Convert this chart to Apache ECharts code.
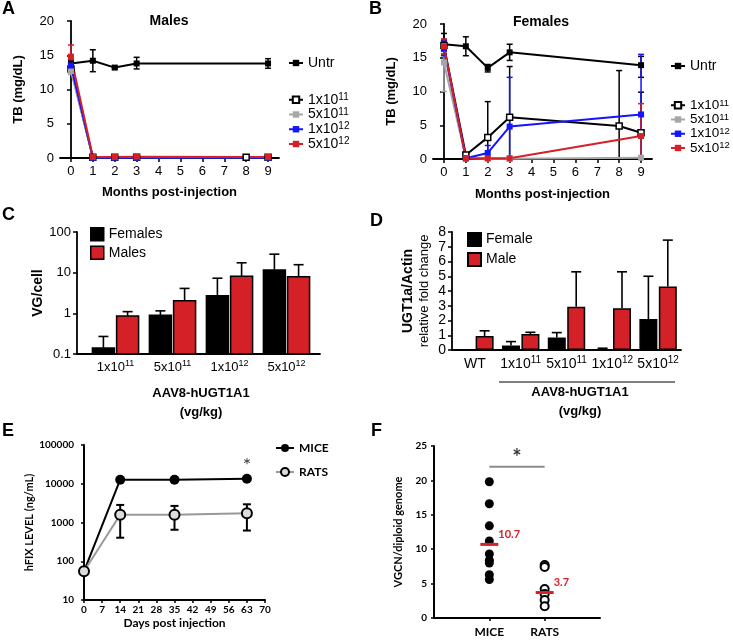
<!DOCTYPE html>
<html><head><meta charset="utf-8">
<script src="https://cdn.jsdelivr.net/npm/echarts@6/dist/echarts.min.js"></script>
<style>html,body{margin:0;padding:0;background:#fff}#c{width:733px;height:640px}</style>
</head><body><div id="c"></div>
<script>
// ================= DATA =================
const monthTicks = [0,1,2,3,4,5,6,7,8,9];
const untrMonths = [0,1,2,3,9];
const lowDoseMonths = [0,1,2,3,8,9];
const doseMonths = [0,1,2,3,9];

// Panel A (Males), TB mg/dL
const aUntr   = [13.8,14.2,13.2,13.8,13.8];
const aUntrLo = [13.3,12.6,13.0,13.0,13.1];
const aUntrHi = [14.3,15.8,13.4,14.7,14.5];
const a1e11   = [13.0,0.1,0.1,0.1,0.1,0.1];
const a1e11Lo = [12.6,0.1,0.1,0.1,0.1,0.1];
const a1e11Hi = [13.4,0.1,0.1,0.1,0.1,0.1];
const a5e11   = [12.7,0.1,0.1,0.1,0.1];
const a5e11Lo = [12.2,0.1,0.1,0.1,0.1];
const a5e11Hi = [13.2,0.1,0.1,0.1,0.1];
const a1e12   = [13.5,0.05,0.05,0.05,0.05];
const a1e12Lo = [13.0,0.05,0.05,0.05,0.05];
const a1e12Hi = [14.0,0.05,0.05,0.05,0.05];
const a5e12   = [14.8,0.15,0.15,0.2,0.15];
const a5e12Lo = [13.2,0.15,0.15,0.2,0.15];
const a5e12Hi = [16.5,0.15,0.15,0.2,0.15];

// Panel B (Females), TB mg/dL
const bUntr   = [17.0,16.7,13.5,15.8,13.9];
const bUntrLo = [15.4,15.3,12.9,14.6,12.1];
const bUntrHi = [18.6,18.1,14.0,17.0,15.2];
const b1e11   = [16.8,0.6,3.2,6.2,4.9,3.9];
const b1e11Lo = [16.0,0.4,0,0,0,0];
const b1e11Hi = [17.6,0.8,8.5,13.7,13.1,9.9];
const b5e11   = [14.3,0.1,0.05,0.05,0.2];
const b5e11Lo = [10.0,0.1,0.05,0.05,0.2];
const b5e11Hi = [17.0,0.1,0.05,0.05,0.2];
const b1e12   = [16.4,0.1,0.9,4.8,6.6];
const b1e12Lo = [15.3,0.1,0,0,0];
const b1e12Hi = [17.6,0.1,2.0,12.1,15.5];
const b5e12   = [16.7,0.1,0.1,0.1,3.4];
const b5e12Lo = [15.6,0.1,0.1,0.1,0];
const b5e12Hi = [17.8,0.1,0.1,0.1,8.2];

// Panel C, VG/cell (log)
const cCats = ['1x10^11','5x10^11','1x10^12','5x10^12'];
const cFemales   = [0.14,0.9,2.7,11.6];
const cFemalesHi = [0.27,1.15,7.3,28.5];
const cMales     = [0.86,2.05,8.2,7.9];
const cMalesHi   = [1.1,4.1,17.5,15.7];

// Panel D, UGT1a/Actin relative fold change
const dCats = ['WT','1x10^11','5x10^11','1x10^12','5x10^12'];
const dFemale   = [null,0.3,0.84,0.05,2.1];
const dFemaleHi = [null,0.57,1.18,0.12,5.0];
const dMale     = [0.95,1.08,2.94,2.83,4.3];
const dMaleHi   = [1.3,1.2,5.3,5.3,7.45];

// Panel E, hFIX level ng/mL (log)
const eDays   = [0,14,35,63];
const eMice   = [55,12700,12700,13500];
const eRats   = [55,1580,1580,1730];
const eRatsLo = [55,405,650,620];
const eRatsHi = [55,2840,2680,2950];

// Panel F, VGCN/diploid genome
const fCats  = ['','MICE','RATS',''];
const fMice  = [19.8,16.6,13.4,11.2,9.3,8.4,8.0,6.3,5.6];
const fRats  = [7.7,7.4,4.2,3.5,2.6,1.7];
const fMeans = [10.7,3.7];
const fSigY  = 22;

// ================= STYLE =================
const FONT = '"Liberation Sans", Arial, sans-serif';
const FONT2 = 'Lato, "Open Sans", sans-serif';
const RED = '#d42027', BLUE = '#1414ff', GRAY = '#a6a6a6';
const supFmt = s => s.indexOf('^') < 0 ? '{n|' + s + '}' : s.replace(/^(.*)\^(\d+)$/, '{n|$1}{sup|$2}');
function supRich(fs, lh, sfs){
  return {n:{fontSize:fs, lineHeight:lh, fontFamily:FONT, color:'#000'},
          sup:{fontSize:sfs, lineHeight:3, verticalAlign:'top', fontFamily:FONT, color:'#000'}};
}

function axisLineS(w){ return {show:true, lineStyle:{color:'#000', width:w||1.8}}; }

function lineS(name, gi, xs, ys, color, open){
  return {type:'line', name, xAxisIndex:gi, yAxisIndex:gi, animation:false,
    data: xs.map((x,i)=>[x,ys[i]]), symbol:'rect', symbolSize:6, showAllSymbol:true,
    lineStyle:{color, width:2},
    itemStyle: open ? {color:'#fff', borderColor:color, borderWidth:1.5} : {color},
    z:4};
}
function errS(gi, xs, lo, hi, color, capW, lw){
  return {type:'custom', xAxisIndex:gi, yAxisIndex:gi, silent:true, animation:false, z:3,
    data: xs.map((x,i)=>[x, lo[i], hi[i]]),
    encode:{x:0, y:[1,2]},
    renderItem:function(params, api){
      const x=api.value(0), lo=api.value(1), hi=api.value(2);
      const a=api.coord([x,lo]), b=api.coord([x,hi]);
      if (Math.abs(a[1]-b[1])<2) return null;
      const st={stroke:color, lineWidth:lw||1.5};
      return {type:'group', children:[
        {type:'line', shape:{x1:a[0],y1:a[1],x2:b[0],y2:b[1]}, style:st},
        {type:'line', shape:{x1:a[0]-capW,y1:a[1],x2:a[0]+capW,y2:a[1]}, style:st},
        {type:'line', shape:{x1:b[0]-capW,y1:b[1],x2:b[0]+capW,y2:b[1]}, style:st}
      ]};
    }};
}
function upErrS(gi, vals, his, off, capW){
  return {type:'custom', xAxisIndex:gi, yAxisIndex:gi, silent:true, animation:false, z:1,
    data: vals.map((v,i)=> v==null ? [i,'-','-'] : [i, v, his[i]]),
    encode:{x:0, y:[1,2]},
    renderItem:function(params, api){
      const i=api.value(0), v=api.value(1), h=api.value(2);
      if (isNaN(v) || isNaN(h)) return null;
      const a=api.coord([i,v]), b=api.coord([i,h]);
      const x=a[0]+off, st={stroke:'#000', lineWidth:1.6};
      return {type:'group', children:[
        {type:'line', shape:{x1:x,y1:a[1],x2:x,y2:b[1]}, style:st},
        {type:'line', shape:{x1:x-capW,y1:b[1],x2:x+capW,y2:b[1]}, style:st}
      ]};
    }};
}
function logBarS(name, gi, vals, off, w, color){
  return {type:'custom', name, xAxisIndex:gi, yAxisIndex:gi, animation:false, z:2,
    itemStyle:{color},
    data: vals.map((v,i)=>[i,v]), encode:{x:0,y:1},
    renderItem:function(params, api){
      const i=api.value(0), v=api.value(1);
      const t=api.coord([i,v]); const cs=params.coordSys;
      const bottom=cs.y+cs.height; const cx=t[0]+off;
      return {type:'rect', shape:{x:cx-w/2, y:t[1], width:w, height:bottom-t[1]},
        style:{fill:color, stroke:'#000', lineWidth:1.5}};
    }};
}

const chart = echarts.init(document.getElementById('c'), null, {renderer:'canvas', width:733, height:640});

const tickLbl = {color:'#000', fontFamily:FONT, fontSize:13};
const nameBold = {color:'#000', fontFamily:FONT, fontSize:13, fontWeight:'bold'};
const tickLbl2 = {color:'#000', fontFamily:FONT2, fontSize:10, fontWeight:'bold'};
const nameBold2 = {color:'#000', fontFamily:FONT2, fontSize:11, fontWeight:'bold'};

const option = {
  backgroundColor:'#fff',
  animation:false,
  grid:[
    {left:60, top:21, width:219, height:137},   // A
    {left:433, top:24, width:219, height:135},  // B
    {left:77, top:232, width:243, height:122},  // C frame
    {left:87, top:232, width:228, height:122},  // C bars
    {left:452, top:232, width:229, height:118}, // D
    {left:84, top:445, width:181, height:155},  // E
    {left:434, top:446, width:166, height:172}  // F
  ],
  xAxis:[
    {gridIndex:0, type:'value', min:-0.5, max:9.5, axisLine:axisLineS(), splitLine:{show:false},
      axisTick:{customValues:monthTicks, length:4, lineStyle:{color:'#000',width:1.5}},
      axisLabel:Object.assign({customValues:monthTicks, margin:7}, tickLbl),
      name:'Months post-injection', nameLocation:'middle', nameGap:28, nameTextStyle:nameBold},
    {gridIndex:1, type:'value', min:-0.5, max:9.5, axisLine:axisLineS(), splitLine:{show:false},
      axisTick:{customValues:monthTicks, length:4, lineStyle:{color:'#000',width:1.5}},
      axisLabel:Object.assign({customValues:monthTicks, margin:7}, tickLbl),
      name:'Months post-injection', nameLocation:'middle', nameGap:29, nameTextStyle:nameBold},
    {gridIndex:2, type:'value', min:0, max:1, axisLine:axisLineS(), axisTick:{show:false},
      axisLabel:{show:false}, splitLine:{show:false}},
    {gridIndex:3, type:'category', data:cCats, axisLine:{show:false},
      axisTick:{alignWithLabel:true, length:4, lineStyle:{color:'#000',width:1.5}},
      axisLabel:Object.assign({formatter:supFmt, margin:5, interval:0, rich:supRich(13,17,9)}, tickLbl),
      name:'AAV8-hUGT1A1\n(vg/kg)', nameLocation:'middle', nameGap:30,
      nameTextStyle:Object.assign({lineHeight:19}, nameBold)},
    {gridIndex:4, type:'category', data:dCats, axisLine:axisLineS(),
      axisTick:{alignWithLabel:true, length:4, lineStyle:{color:'#000',width:1.5}},
      axisLabel:Object.assign({formatter:supFmt, margin:5, interval:0, rich:supRich(14,18,10)}, tickLbl)},
    {gridIndex:5, type:'value', min:0, max:70, interval:7, axisLine:axisLineS(2), splitLine:{show:false},
      axisTick:{length:3, lineStyle:{color:'#000',width:1.5}},
      axisLabel:Object.assign({margin:5}, tickLbl2),
      name:'Days post injection', nameLocation:'middle', nameGap:17,
      nameTextStyle:Object.assign({}, nameBold2, {fontSize:12})},
    {gridIndex:6, type:'value', min:0, max:3, interval:1, axisLine:axisLineS(2), splitLine:{show:false},
      axisTick:{customValues:[1,2], length:3, lineStyle:{color:'#000',width:1.5}},
      axisLabel:Object.assign({customValues:[1,2], formatter:v=>fCats[v]||'', margin:8}, tickLbl2, {fontSize:12})}
  ],
  yAxis:[
    {gridIndex:0, type:'value', min:0, max:20, interval:5, axisLine:axisLineS(), splitLine:{show:false},
      axisTick:{show:true, length:4, lineStyle:{color:'#000',width:1.5}},
      axisLabel:Object.assign({margin:6}, tickLbl),
      name:'TB (mg/dL)', nameLocation:'middle', nameGap:35, nameTextStyle:nameBold},
    {gridIndex:1, type:'value', min:0, max:20, interval:5, axisLine:axisLineS(), splitLine:{show:false},
      axisTick:{show:true, length:4, lineStyle:{color:'#000',width:1.5}},
      axisLabel:Object.assign({margin:6}, tickLbl),
      name:'TB (mg/dL)', nameLocation:'middle', nameGap:35, nameTextStyle:nameBold},
    {gridIndex:2, type:'log', logBase:10, min:0.1, max:100, axisLine:axisLineS(), splitLine:{show:false},
      axisTick:{show:true, length:4, lineStyle:{color:'#000',width:1.5}}, minorTick:{show:false},
      axisLabel:Object.assign({margin:6, formatter:v=>String(+(+v).toPrecision(3))}, tickLbl),
      name:'VG/cell', nameLocation:'middle', nameGap:17, nameTextStyle:Object.assign({}, nameBold, {fontSize:14})},
    {gridIndex:3, type:'log', logBase:10, min:0.1, max:100, show:false},
    {gridIndex:4, type:'value', min:0, max:8, interval:1, axisLine:axisLineS(), splitLine:{show:false},
      axisTick:{show:true, length:4, lineStyle:{color:'#000',width:1.5}},
      axisLabel:Object.assign({margin:6}, tickLbl, {fontSize:14}),
      name:'{b|UGT1a/Actin}\n{r|relative fold change}', nameLocation:'middle', nameGap:20,
      nameTextStyle:{color:'#000', fontFamily:FONT, fontSize:13, lineHeight:16,
        rich:{b:{fontWeight:'bold', fontSize:14, fontFamily:FONT, color:'#000', lineHeight:16},
              r:{fontSize:13, fontFamily:FONT, color:'#000', lineHeight:16}}}},
    {gridIndex:5, type:'log', logBase:10, min:10, max:100000, axisLine:axisLineS(2), splitLine:{show:false},
      axisTick:{show:true, length:3, lineStyle:{color:'#000',width:1.5}}, minorTick:{show:false},
      axisLabel:Object.assign({margin:7, formatter:v=>String(Math.round(v))}, tickLbl2),
      name:'hFIX LEVEL (ng/mL)', nameLocation:'middle', nameGap:42, offset:3, nameTextStyle:nameBold2},
    {gridIndex:6, type:'value', min:0, max:25, interval:5, axisLine:axisLineS(2), splitLine:{show:false},
      axisTick:{show:true, length:3, lineStyle:{color:'#000',width:1.5}},
      axisLabel:Object.assign({margin:7}, tickLbl2),
      name:'VGCN/diploid genome', nameLocation:'middle', nameGap:30, nameTextStyle:nameBold2}
  ],
  legend:[
    {data:['Untr'], left:288, top:56, padding:0, itemWidth:14, itemHeight:8,
      formatter:supFmt, textStyle:Object.assign({rich:supRich(14,15.5,10)}, tickLbl, {fontSize:14})},
    {data:['1x10^11','5x10^11','1x10^12','5x10^12'], orient:'vertical', left:288, top:92, padding:0, itemGap:0,
      itemWidth:14, itemHeight:8, formatter:supFmt,
      textStyle:Object.assign({rich:supRich(14,15.5,10)}, tickLbl, {fontSize:14})},
    {data:['Untr'], left:670, top:59, padding:0, itemWidth:14, itemHeight:8,
      formatter:supFmt, textStyle:Object.assign({rich:supRich(14,15,10)}, tickLbl, {fontSize:14})},
    {data:['1x10^11','5x10^11','1x10^12','5x10^12'], orient:'vertical', left:670, top:98, padding:0, itemGap:0,
      itemWidth:14, itemHeight:8, formatter:supFmt,
      textStyle:Object.assign({rich:supRich(13.5,14.5,9.5)}, tickLbl, {fontSize:14})},
    {data:[{name:'Females', icon:'rect', itemStyle:{color:'#000', borderColor:'#000', borderWidth:1.5}},
           {name:'Males', icon:'rect', itemStyle:{color:RED, borderColor:'#000', borderWidth:1.5}}],
      orient:'vertical', left:90, top:227, padding:0, itemGap:4, itemWidth:13, itemHeight:13,
      textStyle:Object.assign({}, tickLbl, {fontSize:14})},
    {data:[{name:'Female', icon:'rect'}, {name:'Male', icon:'rect'}],
      orient:'vertical', left:467, top:232, padding:0, itemGap:5, itemWidth:13, itemHeight:13,
      textStyle:Object.assign({}, tickLbl, {fontSize:14})},
    {data:['MICE','RATS'], orient:'vertical', left:275, top:442, padding:0, itemGap:12, itemWidth:18, itemHeight:10,
      textStyle:Object.assign({}, nameBold2, {fontSize:12})}
  ],
  graphic:[
    {type:'text', left:2, top:0, style:{text:'A', font:'bold 18px '+FONT, fill:'#000'}},
    {type:'text', left:369, top:0, style:{text:'B', font:'bold 18px '+FONT, fill:'#000'}},
    {type:'text', left:2, top:206, style:{text:'C', font:'bold 18px '+FONT, fill:'#000'}},
    {type:'text', left:370, top:212, style:{text:'D', font:'bold 18px '+FONT, fill:'#000'}},
    {type:'text', left:2, top:422, style:{text:'E', font:'bold 18px '+FONT, fill:'#000'}},
    {type:'text', left:371, top:422, style:{text:'F', font:'bold 18px '+FONT, fill:'#000'}},
    {type:'text', x:169, y:21, style:{text:'Males', font:'bold 14px '+FONT, fill:'#000', textAlign:'center', textVerticalAlign:'middle'}},
    {type:'text', x:541, y:22, style:{text:'Females', font:'bold 14px '+FONT, fill:'#000', textAlign:'center', textVerticalAlign:'middle'}},
    {type:'line', shape:{x1:499, y1:382, x2:675, y2:382}, style:{stroke:'#000', lineWidth:1.2}},
    {type:'text', x:580, y:392, style:{text:'AAV8-hUGT1A1', font:'bold 13px '+FONT, fill:'#000', textAlign:'center', textVerticalAlign:'middle'}},
    {type:'text', x:580, y:411, style:{text:'(vg/kg)', font:'bold 13px '+FONT, fill:'#000', textAlign:'center', textVerticalAlign:'middle'}}
  ],
  series:[
    // ---- A ----
    errS(0, untrMonths, aUntrLo, aUntrHi, '#000', 3),
    errS(0, lowDoseMonths, a1e11Lo, a1e11Hi, '#000', 3),
    errS(0, doseMonths, a5e11Lo, a5e11Hi, GRAY, 3),
    errS(0, doseMonths, a1e12Lo, a1e12Hi, BLUE, 3),
    errS(0, doseMonths, a5e12Lo, a5e12Hi, RED, 3),
    lineS('Untr', 0, untrMonths, aUntr, '#000'),
    lineS('1x10^11', 0, lowDoseMonths, a1e11, '#000', true),
    lineS('5x10^11', 0, doseMonths, a5e11, GRAY),
    lineS('1x10^12', 0, doseMonths, a1e12, BLUE),
    lineS('5x10^12', 0, doseMonths, a5e12, RED),
    // ---- B ----
    errS(1, untrMonths, bUntrLo, bUntrHi, '#000', 3),
    errS(1, lowDoseMonths, b1e11Lo, b1e11Hi, '#000', 3),
    errS(1, doseMonths, b5e11Lo, b5e11Hi, GRAY, 3),
    errS(1, doseMonths, b1e12Lo, b1e12Hi, BLUE, 3),
    errS(1, doseMonths, b5e12Lo, b5e12Hi, RED, 3),
    lineS('Untr', 1, untrMonths, bUntr, '#000'),
    lineS('1x10^11', 1, lowDoseMonths, b1e11, '#000', true),
    lineS('5x10^11', 1, doseMonths, b5e11, GRAY),
    lineS('1x10^12', 1, doseMonths, b1e12, BLUE),
    lineS('5x10^12', 1, doseMonths, b5e12, RED),
    // ---- C ----
    upErrS(3, cFemales, cFemalesHi, -12.1, 5),
    upErrS(3, cMales, cMalesHi, 12.1, 5),
    logBarS('Females', 3, cFemales, -12.1, 22, '#000'),
    logBarS('Males', 3, cMales, 12.1, 22, RED),
    // ---- D ----
    upErrS(4, dFemale, dFemaleHi, -9.7, 5),
    upErrS(4, dMale, dMaleHi, 9.7, 5),
    {type:'bar', name:'Female', xAxisIndex:4, yAxisIndex:4, data:dFemale.map(v=>v==null?'-':v),
      barWidth:18, barGap:'8%', itemStyle:{color:'#000', borderColor:'#000', borderWidth:1.5}, z:2},
    {type:'bar', name:'Male', xAxisIndex:4, yAxisIndex:4, data:dMale,
      barWidth:18, barGap:'8%', itemStyle:{color:RED, borderColor:'#000', borderWidth:1.5}, z:2},
    // ---- E ----
    errS(5, eDays, eRatsLo, eRatsHi, '#000', 4, 2),
    {type:'line', name:'MICE', xAxisIndex:5, yAxisIndex:5, data:eDays.map((d,i)=>[d,eMice[i]]),
      symbol:'circle', symbolSize:10, lineStyle:{color:'#000', width:2}, itemStyle:{color:'#000'}, z:4},
    {type:'line', name:'RATS', xAxisIndex:5, yAxisIndex:5, data:eDays.map((d,i)=>[d,eRats[i]]),
      symbol:'circle', symbolSize:10, lineStyle:{color:'#999', width:2},
      itemStyle:{color:'#dcdcdc', borderColor:'#000', borderWidth:2}, z:5},
    {type:'scatter', xAxisIndex:5, yAxisIndex:5, data:[[eDays[3], eMice[3]]], symbolSize:10,
      itemStyle:{color:'rgba(0,0,0,0)'}, silent:true, z:6,
      label:{show:true, position:'top', distance:-2, formatter:'*', fontSize:20, fontFamily:FONT2, color:'#000', lineHeight:20}},
    // ---- F ----
    {type:'line', xAxisIndex:6, yAxisIndex:6, data:[[1,fSigY],[2,fSigY]], symbol:'none',
      lineStyle:{color:'#8c8c8c', width:2}, silent:true, z:2},
    {type:'scatter', xAxisIndex:6, yAxisIndex:6, data:[[1.5,fSigY]], symbolSize:1,
      itemStyle:{color:'rgba(0,0,0,0)'}, silent:true,
      label:{show:true, position:'top', distance:-3, formatter:'*', fontSize:22, fontWeight:'bold', fontFamily:FONT2, color:'#000', lineHeight:22}},
    {type:'scatter', name:'MICE_F', xAxisIndex:6, yAxisIndex:6, data:fMice.map(v=>[1,v]),
      symbol:'circle', symbolSize:9, itemStyle:{color:'#000', opacity:1}, z:3},
    {type:'scatter', name:'RATS_F', xAxisIndex:6, yAxisIndex:6, data:fRats.map(v=>[2,v]),
      symbol:'circle', symbolSize:8, itemStyle:{color:'#fff', borderColor:'#000', borderWidth:2, opacity:1}, z:3},
    {type:'custom', xAxisIndex:6, yAxisIndex:6, silent:true, z:5,
      data:fMeans.map((m,i)=>[i+1,m]), encode:{x:0,y:1},
      renderItem:function(params, api){
        const p=api.coord([api.value(0), api.value(1)]);
        return {type:'group', children:[
          {type:'line', shape:{x1:p[0]-9,y1:p[1],x2:p[0]+9,y2:p[1]}, style:{stroke:RED, lineWidth:3}},
          {type:'text', x:p[0]+9, y:p[1]-10, style:{text:String(api.value(1)), fill:RED,
            font:'bold 11px '+FONT2, textAlign:'left', textVerticalAlign:'middle', verticalAlign:'middle'}}
        ]};
      }}
  ]
};
chart.setOption(option);
</script></body></html>
